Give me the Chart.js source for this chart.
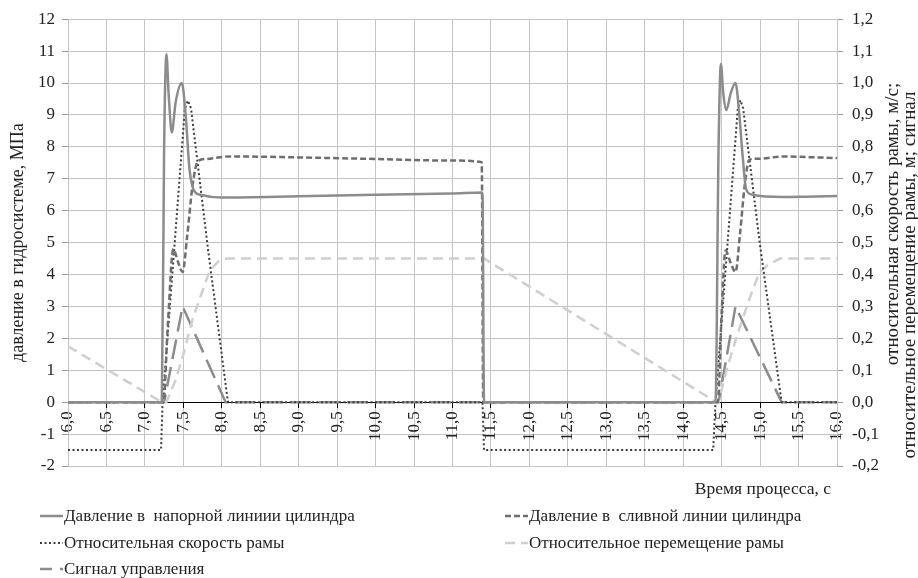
<!DOCTYPE html>
<html>
<head>
<meta charset="utf-8">
<script src="https://cdn.jsdelivr.net/npm/chart.js@4.4.1/dist/chart.umd.min.js"></script>
<style>
  body { margin: 0; background: #fff; }
  #wrap { position: relative; width: 918px; height: 578px; }
  #legend { position: absolute; left: 0; top: 0; width: 918px; height: 578px; pointer-events: none;
            font-family: "Liberation Serif", "Times New Roman", serif; font-size: 17px; color: #222; }
  .item { position: absolute; display: flex; align-items: center; height: 22px; white-space: pre; }
  .item canvas { margin-right: 1px; }
</style>
</head>
<body>
<div id="wrap">
  <canvas id="chart"></canvas>
  <div id="legend"></div>
</div>
<script>
// pressure in the supply line, MPa (left axis)
const supplyTime = [6.0, 7.22, 7.25, 7.28, 7.31, 7.35, 7.40, 7.48, 7.53, 7.58, 7.64, 7.72, 8.0, 9.0, 10.0, 11.0, 11.39, 11.41,
                    14.42, 14.46, 14.49, 14.52, 14.56, 14.62, 14.68, 14.73, 14.77, 14.82, 14.9, 15.3, 15.6, 16.0];
const supplyPressure = [0, 0, 8, 10.9, 9.6, 8.45, 9.4, 10.0, 9.0, 7.3, 6.62, 6.5, 6.41, 6.45, 6.5, 6.54, 6.57, 0,
                        0, 8, 10.6, 9.7, 9.15, 9.7, 10.0, 9.0, 7.8, 6.66, 6.5, 6.43, 6.44, 6.46];

// pressure in the drain line, MPa (left axis)
const drainTime = [6.0, 7.24, 7.3, 7.37, 7.43, 7.49, 7.55, 7.62, 7.69, 7.8, 8.1, 9.0, 10.0, 11.0, 11.38, 11.40,
                   14.45, 14.5, 14.55, 14.62, 14.68, 14.74, 14.8, 14.86, 15.0, 15.3, 15.6, 16.0];
const drainPressure = [0, 0, 2.5, 4.8, 4.4, 4.08, 5.2, 6.8, 7.55, 7.62, 7.7, 7.67, 7.62, 7.57, 7.52, 0,
                       0, 2.8, 4.75, 4.35, 4.08, 5.3, 6.8, 7.6, 7.63, 7.7, 7.68, 7.65];

// relative frame speed, m/s (right axis)
const speedTime = [6.0, 7.21, 7.23, 7.52, 7.56, 7.60, 7.82, 8.08, 11.39, 11.41,
                   14.39, 14.42, 14.71, 14.745, 14.78, 15.0, 15.28, 16.0];
const frameSpeed = [-0.15, -0.15, 0, 0.92, 0.945, 0.92, 0.48, 0, 0, -0.15,
                    -0.15, 0, 0.92, 0.946, 0.92, 0.49, 0, 0];

// relative frame displacement, m (right axis)
const moveTime = [6.0, 7.22, 7.28, 7.4, 7.5, 7.62, 7.75, 7.84, 7.95, 8.06, 11.41,
                  14.43, 14.46, 14.56, 14.65, 14.77, 14.9, 15.0, 15.1, 15.26, 16.0];
const frameMove = [0.175, 0, 0, 0.07, 0.15, 0.26, 0.35, 0.41, 0.44, 0.45, 0.45,
                   0, 0, 0.097, 0.17, 0.26, 0.35, 0.41, 0.43, 0.45, 0.45];

// control signal (right axis)
const signalTime = [6.0, 7.25, 7.49, 8.05, 14.46, 14.68, 15.28, 16.0];
const controlSignal = [0, 0, 0.30, 0, 0, 0.30, 0, 0];

const seriesNames = [
  'Давление в  напорной линиии цилиндра',
  'Давление в  сливной линии цилиндра',
  'Относительная скорость рамы',
  'Относительное перемещение рамы',
  'Сигнал управления'
];
const xTitle = 'Время процесса, с';
const yTitle = 'давление в гидросистеме, МПа';
const y2Title = ['относительная скорость рамы, м/с;', 'относительное перемещение рамы, м; сигнал'];

const serif = '"Liberation Serif", "Times New Roman", serif';
const fmt = v => (Math.abs(v) < 1e-9 ? 0 : v).toFixed(1).replace('.', ',');
const pts = (ts, vs) => ts.map((t, i) => ({ x: t, y: vs[i] }));

const extraTitles = {
  id: 'extraTitles',
  afterDraw(chart) {
    const ctx = chart.ctx;
    ctx.save();
    ctx.fillStyle = '#222';
    ctx.textBaseline = 'middle';
    ctx.font = '17.5px ' + serif;
    ctx.textAlign = 'right';
    ctx.fillText(xTitle, 831, 489);
    ctx.font = '19px ' + serif;
    ctx.textAlign = 'center';
    ctx.translate(893, 224);
    ctx.rotate(-Math.PI / 2);
    ctx.fillText(y2Title[0], 0, 0);
    ctx.rotate(Math.PI / 2);
    ctx.translate(17, 51);
    ctx.rotate(-Math.PI / 2);
    ctx.fillText(y2Title[1], 0, 0);
    ctx.restore();
  }
};

const straight = { cubicInterpolationMode: 'default', tension: 0 };

const chart = new Chart(document.getElementById('chart'), {
  type: 'line',
  data: {
    datasets: [{
      label: seriesNames[0],
      data: pts(supplyTime, supplyPressure),
      borderColor: '#8c8c8c', borderWidth: 2.5,
      yAxisID: 'y'
    }, {
      label: seriesNames[1],
      data: pts(drainTime, drainPressure),
      borderColor: '#6e6e6e', borderWidth: 2.5, borderDash: [6, 3],
      yAxisID: 'y'
    }, {
      label: seriesNames[2],
      data: pts(speedTime, frameSpeed),
      borderColor: '#3c3c3c', borderWidth: 2, borderDash: [2, 2.5],
      yAxisID: 'y2', ...straight
    }, {
      label: seriesNames[3],
      data: pts(moveTime, frameMove),
      borderColor: '#cfcfcf', borderWidth: 2.5, borderDash: [10, 6],
      yAxisID: 'y2', ...straight
    }, {
      label: seriesNames[4],
      data: pts(signalTime, controlSignal),
      borderColor: '#8c8c8c', borderWidth: 2.5, borderDash: [20, 8],
      yAxisID: 'y2', ...straight
    }]
  },
  options: {
    responsive: true,
    maintainAspectRatio: false,
    animation: false,
    events: [],
    elements: {
      point: { radius: 0 },
      line: { cubicInterpolationMode: 'monotone', fill: false }
    },
    layout: { padding: { left: 0, right: 0, top: 15, bottom: 112 } },
    plugins: { legend: { display: false }, tooltip: { enabled: false } },
    scales: {
      x: {
        type: 'linear',
        position: { y: 0 },
        min: 6, max: 16,
        grid: { color: '#c4c4c4', tickColor: '#000', tickLength: 5 },
        border: { color: '#000', width: 1 },
        ticks: {
          stepSize: 0.5, autoSkip: false, maxRotation: 90, minRotation: 90,
          padding: 4, color: '#222', font: { family: serif, size: 17 },
          callback: v => fmt(v)
        }
      },
      y: {
        position: 'left',
        min: -2, max: 12,
        afterFit: s => { s.width = 68; },
        grid: { color: '#c4c4c4', tickColor: '#999', tickLength: 6 },
        border: { color: '#c4c4c4' },
        ticks: { stepSize: 1, padding: 7, color: '#222', font: { family: serif, size: 17 } },
        title: { display: true, text: yTitle, color: '#222', font: { family: serif, size: 18 }, padding: { top: 7 } }
      },
      y2: {
        position: 'right',
        min: -0.2, max: 1.2,
        afterFit: s => { s.width = 81; },
        grid: { drawOnChartArea: false, tickColor: '#999', tickLength: 6 },
        border: { color: '#c4c4c4' },
        ticks: { stepSize: 0.1, padding: 9, color: '#222', font: { family: serif, size: 17 }, callback: v => fmt(v) }
      }
    }
  },
  plugins: [extraTitles]
});

// html legend in two columns, samples drawn with each dataset's own line style
const legend = document.getElementById('legend');
const slots = [[40, 505], [505, 505], [40, 532], [505, 532], [40, 558]];
chart.data.datasets.forEach((ds, i) => {
  const item = document.createElement('div');
  item.className = 'item';
  item.style.left = slots[i][0] + 'px';
  item.style.top = slots[i][1] + 'px';
  const c = document.createElement('canvas');
  c.width = 23; c.height = 10;
  const g = c.getContext('2d');
  const dash = ds.borderDash || [];
  g.strokeStyle = ds.borderColor;
  g.lineWidth = ds.borderWidth;
  g.setLineDash(dash);
  // long dashes would fill the whole sample, so start part way into the pattern
  g.lineDashOffset = dash[0] > 12 ? 8 : 0;
  g.beginPath(); g.moveTo(0, 5); g.lineTo(23, 5); g.stroke();
  item.appendChild(c);
  const span = document.createElement('span');
  span.textContent = ds.label;
  item.appendChild(span);
  legend.appendChild(item);
});
</script>
</body>
</html>
